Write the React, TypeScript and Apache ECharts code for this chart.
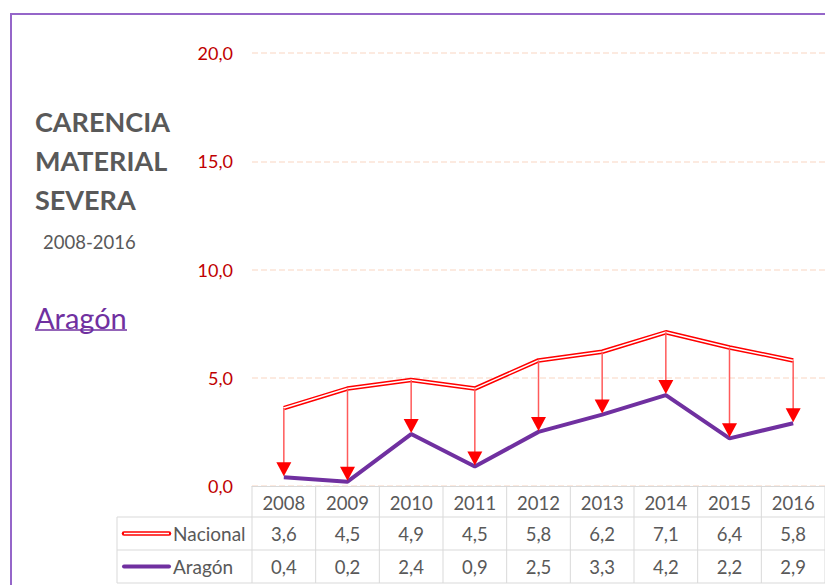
import React, { useEffect, useRef } from "react";
import * as echarts from "echarts";

const years = ["2008", "2009", "2010", "2011", "2012", "2013", "2014", "2015", "2016"];
const nacional = [3.6, 4.5, 4.9, 4.5, 5.8, 6.2, 7.1, 6.4, 5.8];
const aragon = [0.4, 0.2, 2.4, 0.9, 2.5, 3.3, 4.2, 2.2, 2.9];
const seriesNames = ["Nacional", "Aragón"];
const titleLines = ["CARENCIA", "MATERIAL", "SEVERA"];
const subtitle = "2008-2016";
const region = "Aragón";

const FONT = "Lato, 'Noto Sans', sans-serif";
const GREY = "#595959";
const PURPLE = "#7030a0";
const RED = "#ff0000";
const fmt = (v: number) => v.toFixed(1).replace(".", ",");

export default function App() {
  const ref = useRef<HTMLDivElement>(null);
  useEffect(() => {
    document.body.style.margin = "0";
    const chart = echarts.init(ref.current!, null, { renderer: "svg" });
    const gridLeft = 252, gridTop = 53, gridH = 433;
    chart.setOption({
      animation: false,
      grid: { left: gridLeft, top: gridTop, width: 581, height: gridH },
      xAxis: {
        type: "category",
        data: years,
        axisLine: { lineStyle: { color: "#d9d9d9", width: 1 } },
        axisTick: { show: false },
        axisLabel: { color: GREY, fontSize: 18.5, fontFamily: FONT, margin: 7 },
      },
      yAxis: {
        type: "value",
        min: 0,
        max: 20,
        interval: 5,
        axisLine: { show: false },
        axisTick: { show: false },
        axisLabel: { color: "#c00000", fontSize: 18, fontFamily: FONT, margin: 19, formatter: (v: number) => fmt(v) },
        splitLine: { lineStyle: { color: "#fce4d6", type: [6, 3], width: 1.5 } },
      },
      series: [
        {
          type: "line", name: "nacOuter", data: nacional, symbol: "none", z: 3,
          lineStyle: { color: RED, width: 4.5 },
        },
        {
          type: "line", name: "nacInner", data: nacional, symbol: "none", z: 4,
          lineStyle: { color: "#ffffff", width: 1.5 },
        },
        {
          type: "line", name: "aragon", data: aragon, symbol: "none", z: 3,
          lineStyle: { color: PURPLE, width: 4 },
        },
        {
          type: "custom", z: 5,
          data: years.map((_, i) => [i, nacional[i], aragon[i]]),
          encode: { x: 0, y: [1, 2] },
          renderItem: (params: any, api: any) => {
            const i = api.value(0);
            const p1 = api.coord([i, api.value(1)]);
            const p2 = api.coord([i, api.value(2)]);
            const x = p1[0];
            const tip = p2[1] - 1;
            return {
              type: "group",
              children: [
                { type: "line", shape: { x1: x, y1: p1[1], x2: x, y2: tip - 12 }, style: { stroke: "#ff5a5a", lineWidth: 1.5 } },
                { type: "polygon", shape: { points: [[x - 7.5, tip - 14], [x + 7.5, tip - 14], [x, tip]] }, style: { fill: RED } },
              ],
            };
          },
        },
      ],
    });

    const c0 = chart.convertToPixel({ xAxisIndex: 0 }, 0) as number;
    const c1 = chart.convertToPixel({ xAxisIndex: 0 }, 1) as number;
    const w = c1 - c0;
    const axisY = gridTop + gridH;
    const rowY = [axisY, axisY + 31, axisY + 64, axisY + 97];
    const tableLeft = 117;
    const lineColor = "#d9d9d9";
    const g: any[] = [];
    g.push({ type: "rect", shape: { x: 11, y: 14, width: 1000, height: 1000 }, style: { fill: "none", stroke: "#9566c9", lineWidth: 2 }, z: 10 });
    titleLines.forEach((t, k) => {
      g.push({ type: "text", x: 35, y: 121 + k * 39, style: { text: t, fontFamily: FONT, fontWeight: "bold", fontSize: 27, fill: GREY, verticalAlign: "middle", align: "left" } });
    });
    g.push({ type: "text", x: 43, y: 242, style: { text: subtitle, fontFamily: FONT, fontSize: 18.5, fill: GREY, verticalAlign: "middle" } });
    g.push({ type: "text", x: 35, y: 317, style: { text: region, fontFamily: FONT, fontSize: 29, fill: PURPLE, verticalAlign: "middle" } });
    g.push({ type: "line", shape: { x1: 35, y1: 330, x2: 127, y2: 330 }, style: { stroke: PURPLE, lineWidth: 1.5 } });
    for (let k = 1; k < 4; k++) {
      g.push({ type: "line", shape: { x1: tableLeft, y1: rowY[k], x2: 900, y2: rowY[k] }, style: { stroke: lineColor, lineWidth: 1 } });
    }
    g.push({ type: "line", shape: { x1: tableLeft, y1: rowY[1], x2: tableLeft, y2: rowY[3] }, style: { stroke: lineColor, lineWidth: 1 } });
    for (let k = 0; k <= years.length; k++) {
      const x = c0 - w / 2 + k * w;
      g.push({ type: "line", shape: { x1: x, y1: rowY[0], x2: x, y2: rowY[3] }, style: { stroke: lineColor, lineWidth: 1 } });
    }
    const rows = [nacional, aragon];
    rows.forEach((arr, r) => {
      const cy = (rowY[r + 1] + rowY[r + 2]) / 2;
      arr.forEach((v, i) => {
        const cx = chart.convertToPixel({ xAxisIndex: 0 }, i) as number;
        g.push({ type: "text", x: cx, y: cy, style: { text: fmt(v), fontFamily: FONT, fontSize: 18.5, fill: GREY, align: "center", verticalAlign: "middle" } });
      });
      g.push({ type: "text", x: 173, y: cy, style: { text: seriesNames[r], fontFamily: FONT, fontSize: 19, fill: GREY, align: "left", verticalAlign: "middle" } });
    });
    const ly1 = (rowY[1] + rowY[2]) / 2, ly2 = (rowY[2] + rowY[3]) / 2;
    g.push({ type: "line", shape: { x1: 124, y1: ly1, x2: 169, y2: ly1 }, style: { stroke: RED, lineWidth: 4.5, lineCap: "round" } });
    g.push({ type: "line", shape: { x1: 124, y1: ly1, x2: 169, y2: ly1 }, style: { stroke: "#ffffff", lineWidth: 1.5 } });
    g.push({ type: "line", shape: { x1: 124, y1: ly2, x2: 169, y2: ly2 }, style: { stroke: PURPLE, lineWidth: 4, lineCap: "round" } });
    chart.setOption({ graphic: g });
    return () => chart.dispose();
  }, []);
  return <div ref={ref} style={{ width: 825, height: 585 }} />;
}
